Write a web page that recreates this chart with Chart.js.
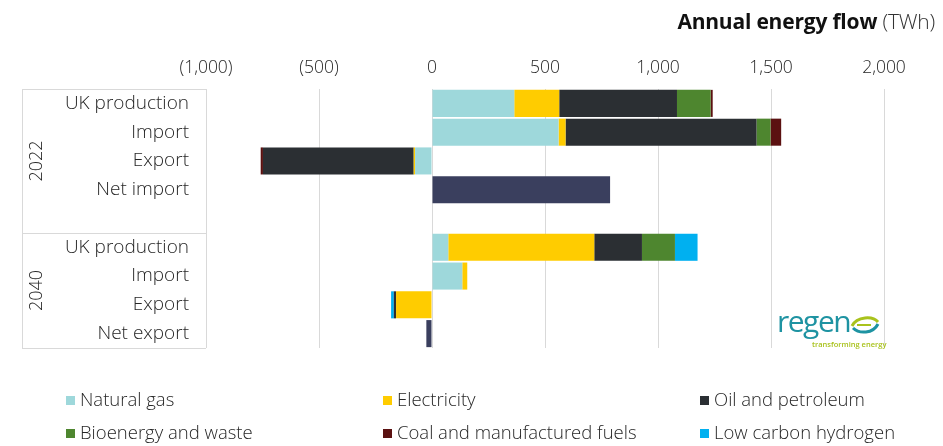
<!DOCTYPE html>
<html>
<head>
<meta charset="utf-8">
<script src="https://cdn.jsdelivr.net/npm/chart.js@4/dist/chart.umd.min.js"></script>
<style>
html,body{margin:0;padding:0;background:#fff;}
#wrap{position:relative;width:943px;height:446px;overflow:hidden;font-family:"Open Sans",sans-serif;color:#262626;}
#c{position:absolute;left:0;top:0;}
#title{position:absolute;right:8px;top:7px;font-size:21px;color:#111;white-space:nowrap;letter-spacing:-0.2px;}
#title b{font-weight:700;}
#title span{font-weight:300;color:#333;}
#legend{position:absolute;left:0;top:0;width:943px;height:446px;pointer-events:none;}
.li{position:absolute;font-size:18.5px;font-weight:300;color:#262626;white-space:nowrap;line-height:20px;}
.li i{display:inline-block;width:9px;height:9px;margin-right:5px;vertical-align:1px;}
#logo{position:absolute;left:777px;top:304px;width:110px;height:46px;}
#logo .r{position:absolute;left:0;top:0;font-size:30px;color:#1E93A2;letter-spacing:-1.5px;line-height:34px;font-weight:400;}
#logo .t{position:absolute;left:35px;top:36px;font-size:7.5px;color:#A9C21C;line-height:8px;white-space:nowrap;font-weight:600;}
#logo svg{position:absolute;left:72px;top:10px;}
</style>
</head>
<body>
<div id="wrap">
<canvas id="c" width="943" height="446"></canvas>
<div id="title"><b>Annual energy flow</b> <span>(TWh)</span></div>
<div id="legend"></div>
<div id="logo"><div class="r">regen</div><svg width="32" height="22" viewBox="0 0 32 22"><path d="M3 12 C8 2, 24 2, 29 8" stroke="#A9C21C" stroke-width="3" fill="none"/><path d="M4 14 C10 20, 24 20, 29 10" stroke="#1E93A2" stroke-width="3" fill="none"/><path d="M8 11 L22 11" stroke="#A9C21C" stroke-width="2"/></svg><div class="t">transforming energy</div></div>
</div>
<script>
// ---- Data (TWh) ----
const categories = ["UK production","Import","Export","Net import","","UK production","Import","Export","Net export"];
const groupLabels = ["2022","2040"];
const groupStart = [0,5];
const groupEnd = [4,8];

const naturalGas   = [364, 560, -75, null, null,  72, 134,    0, null];
const electricity  = [199,  31,  -6, null, null, 646,  22, -159, null];
const oilPetroleum = [521, 845,-667, null, null, 211,   0,  -10, null];
const bioenergy    = [149,  62,   0, null, null, 146,   0,    0, null];
const coalFuels    = [  9,  47, -10, null, null,   0,   0,    0, null];
const lowCarbonH2  = [  0,   0,   0, null, null, 100,   0,  -12, null];
const netFlow      = [null,null,null, 788, null, null,null,null, -25];

const xTicks = [-1000,-500,0,500,1000,1500,2000];

const seriesNames = ["Natural gas","Electricity","Oil and petroleum","Bioenergy and waste","Coal and manufactured fuels","Low carbon hydrogen"];
const seriesColors = ["#9ED8DB","#FFCC00","#2B2F33","#4E862F","#5B1111","#00B0F0"];
const seriesData = [naturalGas, electricity, oilPetroleum, bioenergy, coalFuels, lowCarbonH2];

const datasets = seriesNames.map((n,i)=>({
  label:n, data:seriesData[i], backgroundColor:seriesColors[i],
  borderWidth:0, inLegend:true
}));
datasets.push({label:"Net", data:netFlow, backgroundColor:"#3A3F5E", borderWidth:0, inLegend:false});

function fmt(v){
  const s = Math.abs(v).toLocaleString('en-US');
  return v<0 ? '('+s+')' : s;
}

const frame = {
  id:'frame',
  afterDraw(chart){
    const {ctx, chartArea, scales} = chart;
    const y = scales.y;
    const L = 22, R = chartArea.left;
    ctx.save();
    ctx.strokeStyle = '#D9D9D9'; ctx.lineWidth = 1;
    const lines = [chartArea.top, y.getPixelForValue(groupEnd[0]+0.5), chartArea.bottom];
    ctx.beginPath();
    lines.forEach(py=>{ const p=Math.round(py)+0.5; ctx.moveTo(L,p); ctx.lineTo(R,p); });
    ctx.moveTo(L+0.5, chartArea.top); ctx.lineTo(L+0.5, chartArea.bottom);
    ctx.stroke();
    ctx.fillStyle = '#262626';
    ctx.font = '300 18px "Open Sans"';
    ctx.textAlign = 'center'; ctx.textBaseline = 'middle';
    groupLabels.forEach((g,i)=>{
      const yc = (y.getPixelForValue(groupStart[i]-0.5) + y.getPixelForValue(groupEnd[i]+0.5))/2;
      ctx.save(); ctx.translate(37, yc); ctx.rotate(-Math.PI/2); ctx.fillText(g,0,0); ctx.restore();
    });
    ctx.restore();
  }
};

const chart = new Chart(document.getElementById('c'), {
  type:'bar',
  data:{labels:categories, datasets},
  plugins:[frame],
  options:{
    responsive:false, animation:false, indexAxis:'y',
    layout:{padding:{top:44,right:59,bottom:98,left:0}},
    plugins:{legend:{display:false}, tooltip:{enabled:false}},
    datasets:{bar:{categoryPercentage:1, barPercentage:0.94}},
    scales:{
      x:{
        position:'top', stacked:true, min:-1000, max:2000,
        afterBuildTicks(s){ s.ticks = xTicks.map(v=>({value:v})); },
        afterFit(s){ s.height = 45; },
        grid:{color:'#D9D9D9', drawTicks:false, lineWidth:1},
        border:{display:false},
        ticks:{padding:10, color:'#262626', font:{family:'"Open Sans"', size:17.5, weight:'300'}, callback:(v)=>fmt(v)}
      },
      y:{
        stacked:true,
        afterFit(s){ s.width = 206; },
        grid:{display:false, drawTicks:false},
        border:{display:false},
        ticks:{padding:17, color:'#262626', font:{family:'"Open Sans"', size:19, weight:'300'}}
      }
    }
  }
});

// HTML legend built from datasets
const legPos = [[66,389],[383,389],[700,389],[66,422],[383,422],[700,422]];
const leg = document.getElementById('legend');
chart.data.datasets.filter(d=>d.inLegend).forEach((d,i)=>{
  const el = document.createElement('div');
  el.className='li';
  el.style.left = legPos[i][0]+'px';
  el.style.top = legPos[i][1]+'px';
  el.innerHTML = '<i style="background:'+d.backgroundColor+'"></i>'+d.label;
  leg.appendChild(el);
});
</script>
</body>
</html>
